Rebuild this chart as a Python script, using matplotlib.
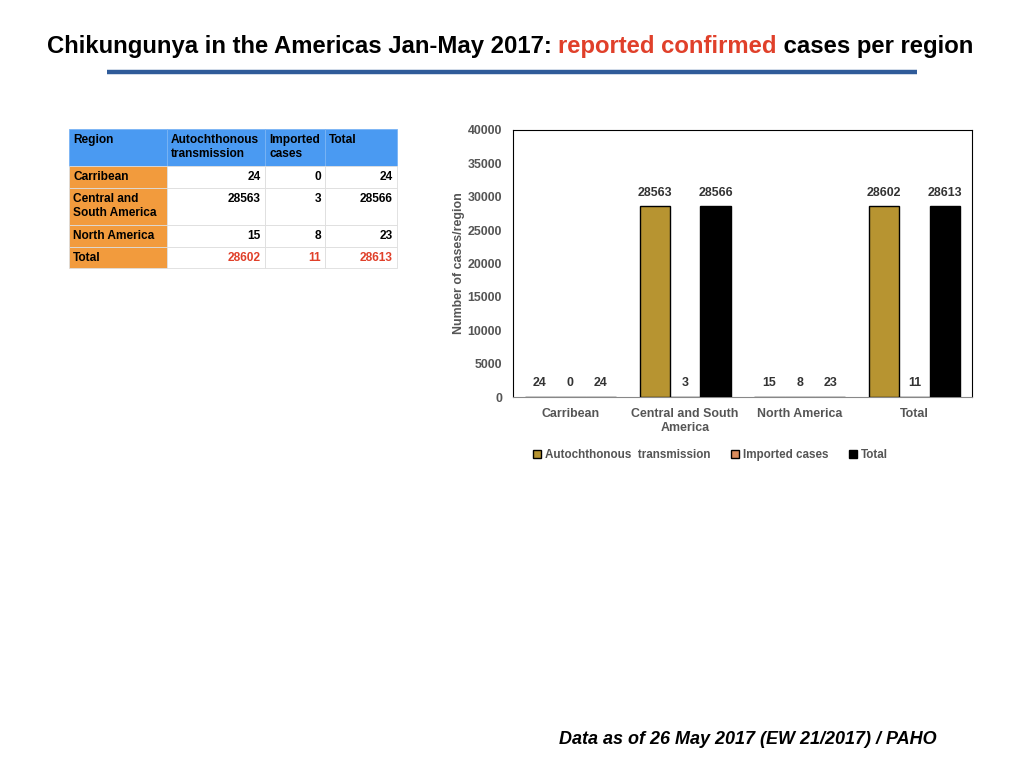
import numpy as np
import matplotlib
matplotlib.use("Agg")
import matplotlib.pyplot as plt
from matplotlib.patches import Rectangle

plt.rcParams["font.family"] = ["Liberation Sans", "DejaVu Sans"]

regions = ["Carribean", "Central and South\nAmerica", "North America", "Total"]
table_regions = ["Carribean", "Central and\nSouth America", "North America", "Total"]
autochthonous = [24, 28563, 15, 28602]
imported = [0, 3, 8, 11]
totals = [24, 28566, 23, 28613]
table_header = ["Region", "Autochthonous\ntransmission", "Imported\ncases", "Total"]
series_names = ["Autochthonous  transmission", "Imported cases", "Total"]

GOLD = "#b79431"
ORANGE = "#d98b5c"
BLUE_HDR = "#4a9af2"
ORANGE_HDR = "#f29b3d"
RED = "#e0402a"
GRAY = "#555555"

W, H = 1024, 768
fig = plt.figure(figsize=(W / 100, H / 100), dpi=100)


def fx(px):
    return px / W


def fy(py):
    return 1 - py / H


# ---- title, made of three coloured pieces
renderer = fig.canvas.get_renderer()
parts = [("Chikungunya in the Americas Jan-May 2017: ", "black"),
         ("reported confirmed", RED),
         (" cases per region", "black")]
tsize = 17
texts = [fig.text(0, fy(46), s, color=c, fontsize=tsize, fontweight="bold",
                  va="center", ha="left") for s, c in parts]
widths = [t.get_window_extent(renderer).width for t in texts]
scale = 930 / sum(widths)
for t in texts:
    t.set_fontsize(tsize * scale)
widths = [t.get_window_extent(renderer).width for t in texts]
x0 = 47
for t, w in zip(texts, widths):
    t.set_x(fx(x0))
    x0 += w

fig.add_artist(plt.Line2D([fx(107), fx(917)], [fy(72), fy(72)], color="#2f5b99",
                          lw=3.2, solid_capstyle="butt"))

# ---- table
TFS = 8.6
tab = fig.add_axes([0, 0, 1, 1])
tab.set_xlim(0, W)
tab.set_ylim(H, 0)
tab.axis("off")
col_x = [69, 167, 265, 325, 397]
row_y = [129, 166, 188, 225, 247, 268]
rows = [[r, a, i, t] for r, a, i, t in zip(table_regions, autochthonous, imported, totals)]
for c in range(4):
    tab.add_patch(Rectangle((col_x[c], row_y[0]), col_x[c + 1] - col_x[c], row_y[1] - row_y[0],
                            facecolor=BLUE_HDR, edgecolor="#7ab4f5", lw=0.6))
    tab.text(col_x[c] + 4, row_y[0] + 5, table_header[c], fontsize=TFS, fontweight="bold",
             va="top", ha="left", color="black", linespacing=1.2)
for r, row in enumerate(rows):
    y0, y1 = row_y[r + 1], row_y[r + 2]
    for c in range(4):
        fc = ORANGE_HDR if c == 0 else "white"
        tab.add_patch(Rectangle((col_x[c], y0), col_x[c + 1] - col_x[c], y1 - y0,
                                facecolor=fc, edgecolor="#dddddd", lw=0.6))
        if c == 0:
            tab.text(col_x[c] + 4, y0 + 5, row[c], fontsize=TFS, fontweight="bold",
                     va="top", ha="left", linespacing=1.2)
        else:
            tab.text(col_x[c + 1] - 4, y0 + 5, str(row[c]), fontsize=TFS, fontweight="bold",
                     va="top", ha="right", color=RED if r == 3 else "black")

# ---- bar chart
FS = 8.9
ax = fig.add_axes([fx(513), fy(397), fx(972) - fx(513), fy(130) - fy(397)])
x = np.arange(len(regions))
bw = 0.265
series = [autochthonous, imported, totals]
colors = [GOLD, ORANGE, "black"]
for k, (vals, col, name) in enumerate(zip(series, colors, series_names)):
    bars = ax.bar(x + (k - 1) * bw, vals, bw, color=col, edgecolor="black", lw=1.0,
                  label=name, zorder=3)
    for b, v in zip(bars, vals):
        ax.annotate(str(v), (b.get_x() + b.get_width() / 2, max(v, 200)),
                    xytext=(0, 5), textcoords="offset points", ha="center", va="bottom",
                    fontsize=FS, fontweight="bold", color="#333333")
ax.set_xlim(-0.5, len(regions) - 0.5)
ax.set_ylim(0, 40000)
ax.set_yticks(np.arange(0, 40001, 5000))
ax.set_xticks(x)
ax.set_xticklabels(regions, fontsize=FS, fontweight="bold", color=GRAY, linespacing=1.25)
ax.tick_params(axis="both", length=0, pad=8, labelsize=FS, labelcolor=GRAY)
for lab in ax.get_yticklabels():
    lab.set_fontweight("bold")
for s in ax.spines.values():
    s.set_color("black")
    s.set_linewidth(0.8)
ax.spines["bottom"].set_color("#888888")
ax.set_ylabel("Number of cases/region", fontsize=FS, fontweight="bold", color=GRAY, labelpad=2)
leg = ax.legend(loc="upper center", bbox_to_anchor=(0.43, -0.155), ncol=3, frameon=False,
                handlelength=0.7, handleheight=0.7, handletextpad=0.3, columnspacing=1.8,
                prop={"size": 8.4, "weight": "bold"})
for t in leg.get_texts():
    t.set_color(GRAY)

# ---- footer
fig.text(fx(559), fy(740), "Data as of 26 May 2017 (EW 21/2017) / PAHO", fontsize=13,
         fontweight="bold", fontstyle="italic", va="center", ha="left")

fig.savefig("out.png", dpi=100)
